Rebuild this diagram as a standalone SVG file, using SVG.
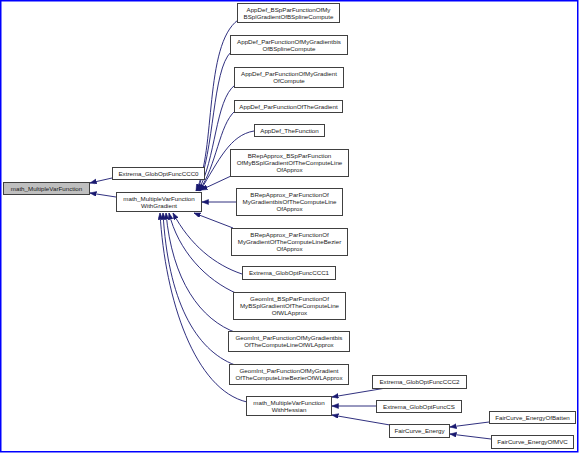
<svg xmlns="http://www.w3.org/2000/svg" width="579" height="453" viewBox="0 0 579 453">
<style>
.n rect{fill:#ffffff;stroke:#404040;stroke-width:1}
.n.root rect{fill:#bfbfbf}
.n text{font-family:"Liberation Sans",Arial,sans-serif;font-size:6.2px;fill:#1a1a1a;text-anchor:middle}
.e path{fill:none;stroke:#191970;stroke-width:0.9;marker-end:url(#ah)}
</style>
<defs>
<marker id="ah" markerUnits="userSpaceOnUse" markerWidth="8" markerHeight="6" refX="6.5" refY="2.5" orient="auto">
<path d="M0,0 L6.5,2.5 L0,5 z" fill="#191970" stroke="#191970" stroke-width="0.5"/>
</marker>
</defs>
<rect x="0.75" y="0.75" width="577" height="451" fill="#ffffff" stroke="#0000ff" stroke-width="1.5"/>
<g id="edges" class="e">
<path d="M112,178 L90,183"/>
<path d="M116,197 L90,193"/>
<path d="M238,20 C204,45 216,150 196,191"/>
<path d="M231,52 C212,70 215,150 197,191"/>
<path d="M235,85 C215,100 216,160 198,191"/>
<path d="M235,111 C219,125 217,165 199,191"/>
<path d="M254,131 C230,135 219,160 200,191"/>
<path d="M231,176 L201,190"/>
<path d="M236,202 L202,202"/>
<path d="M233,228 L194,213"/>
<path d="M242,274 C215,265 190,245 173,213"/>
<path d="M238,294 C205,280 178,250 169,213"/>
<path d="M237,333 C200,320 172,280 166,213"/>
<path d="M235,365 C195,350 168,300 163,213"/>
<path d="M247,402 C195,390 165,300 160,213"/>
<path d="M386,388 L332,397"/>
<path d="M376,406 L332,406"/>
<path d="M390,425 L332,415"/>
<path d="M489,422 L450,427"/>
<path d="M491,439 L450,434"/>
</g>
<g id="n_root" class="n root"><rect x="3.5" y="182.5" width="86" height="12"/><text x="46.5" y="190.8">math_MultipleVarFunction</text></g>
<g id="n_ccc0" class="n"><rect x="112.5" y="167.5" width="92" height="12"/><text x="158.5" y="175.8">Extrema_GlobOptFuncCCC0</text></g>
<g id="n_grad" class="n"><rect x="116.5" y="192.5" width="85" height="19"/><text x="159" y="200.8">math_MultipleVarFunction</text><text x="159" y="207.8">WithGradient</text></g>
<g id="n_appdef_bsp" class="n"><rect x="237.5" y="3.5" width="102" height="19"/><text x="288.5" y="11.8">AppDef_BSpParFunctionOfMy</text><text x="288.5" y="18.8">BSplGradientOfBSplineCompute</text></g>
<g id="n_appdef_gradbis" class="n"><rect x="230.5" y="35.5" width="117" height="19"/><text x="289" y="43.8">AppDef_ParFunctionOfMyGradientbis</text><text x="289" y="50.8">OfBSplineCompute</text></g>
<g id="n_appdef_grad" class="n"><rect x="234.5" y="67.5" width="109" height="20"/><text x="289" y="76.3">AppDef_ParFunctionOfMyGradient</text><text x="289" y="83.3">OfCompute</text></g>
<g id="n_appdef_thegrad" class="n"><rect x="234.5" y="100.5" width="108" height="12"/><text x="288.5" y="108.8">AppDef_ParFunctionOfTheGradient</text></g>
<g id="n_appdef_thefunc" class="n"><rect x="254.5" y="124.5" width="70" height="12"/><text x="289.5" y="132.8">AppDef_TheFunction</text></g>
<g id="n_brep_bsp" class="n"><rect x="230.5" y="149.5" width="118" height="27"/><text x="289.5" y="158.3">BRepApprox_BSpParFunction</text><text x="289.5" y="165.3">OfMyBSplGradientOfTheComputeLine</text><text x="289.5" y="172.3">OfApprox</text></g>
<g id="n_brep_gradbis" class="n"><rect x="236.5" y="188.5" width="106" height="27"/><text x="289.5" y="197.3">BRepApprox_ParFunctionOf</text><text x="289.5" y="204.3">MyGradientbisOfTheComputeLine</text><text x="289.5" y="211.3">OfApprox</text></g>
<g id="n_brep_bezier" class="n"><rect x="231.5" y="228.5" width="116" height="27"/><text x="289.5" y="237.3">BRepApprox_ParFunctionOf</text><text x="289.5" y="244.3">MyGradientOfTheComputeLineBezier</text><text x="289.5" y="251.3">OfApprox</text></g>
<g id="n_ccc1" class="n"><rect x="242.5" y="266.5" width="93" height="13"/><text x="289" y="275.3">Extrema_GlobOptFuncCCC1</text></g>
<g id="n_geom_bsp" class="n"><rect x="233.5" y="292.5" width="112" height="27"/><text x="289.5" y="301.3">GeomInt_BSpParFunctionOf</text><text x="289.5" y="308.3">MyBSplGradientOfTheComputeLine</text><text x="289.5" y="315.3">OfWLApprox</text></g>
<g id="n_geom_gradbis" class="n"><rect x="228.5" y="331.5" width="121" height="20"/><text x="289" y="340.3">GeomInt_ParFunctionOfMyGradientbis</text><text x="289" y="347.3">OfTheComputeLineOfWLApprox</text></g>
<g id="n_geom_grad" class="n"><rect x="229.5" y="364.5" width="119" height="20"/><text x="289" y="373.3">GeomInt_ParFunctionOfMyGradient</text><text x="289" y="380.3">OfTheComputeLineBezierOfWLApprox</text></g>
<g id="n_hess" class="n"><rect x="246.5" y="396.5" width="85" height="19"/><text x="289" y="404.8">math_MultipleVarFunction</text><text x="289" y="411.8">WithHessian</text></g>
<g id="n_ccc2" class="n"><rect x="372.5" y="375.5" width="94" height="13"/><text x="419.5" y="384.3">Extrema_GlobOptFuncCCC2</text></g>
<g id="n_cs" class="n"><rect x="376.5" y="400.5" width="85" height="12"/><text x="419" y="408.8">Extrema_GlobOptFuncCS</text></g>
<g id="n_energy" class="n"><rect x="389.5" y="424.5" width="60" height="13"/><text x="419.5" y="433.3">FairCurve_Energy</text></g>
<g id="n_batten" class="n"><rect x="489.5" y="411.5" width="86" height="12"/><text x="532.5" y="419.8">FairCurve_EnergyOfBatten</text></g>
<g id="n_mvc" class="n"><rect x="491.5" y="435.5" width="82" height="13"/><text x="532.5" y="444.3">FairCurve_EnergyOfMVC</text></g>
</svg>
